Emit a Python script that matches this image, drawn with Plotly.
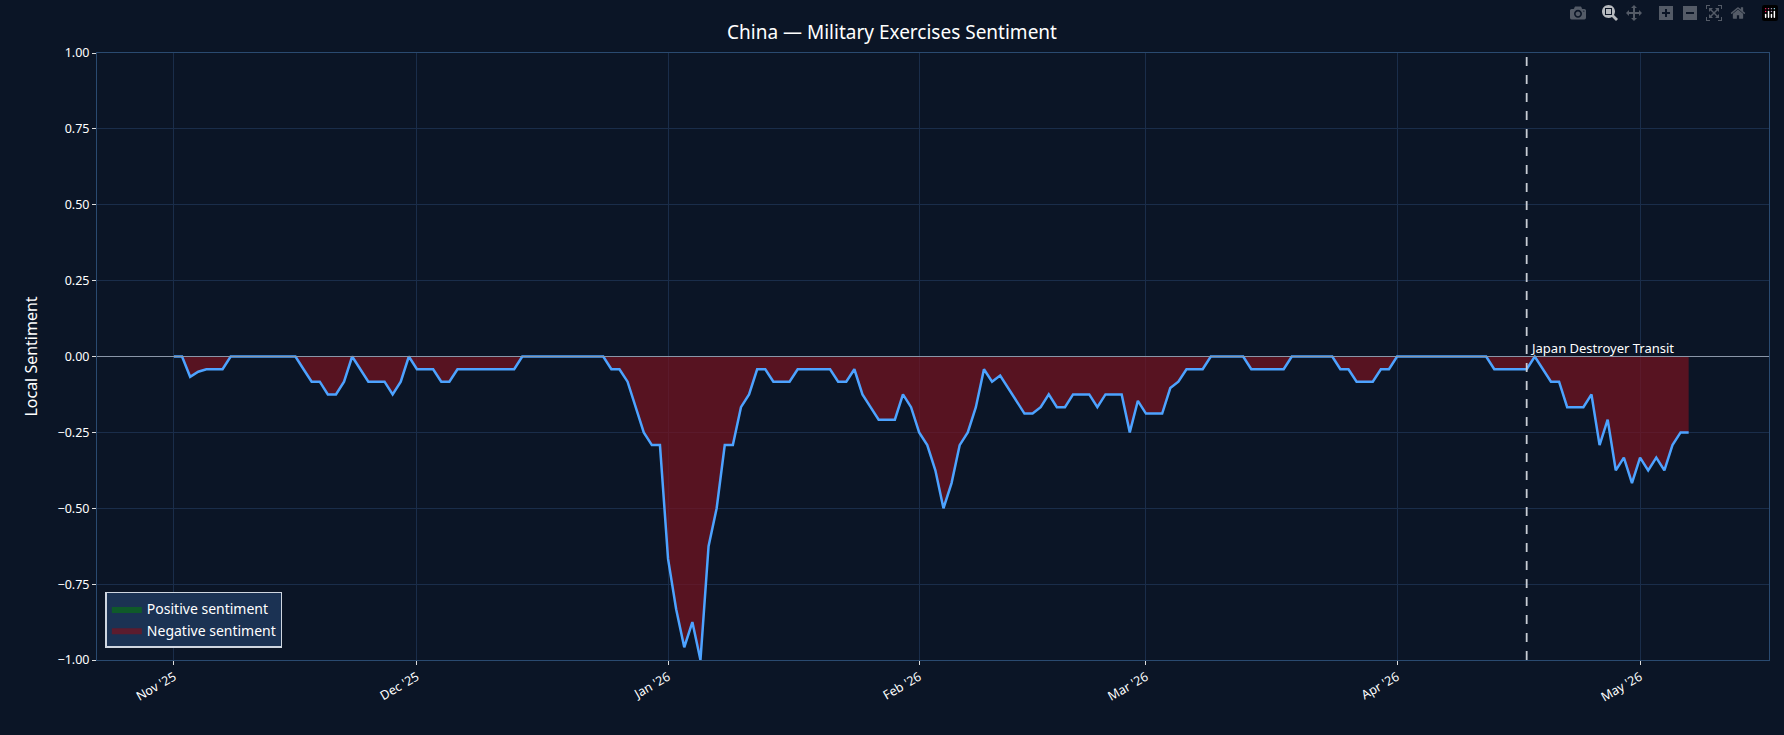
import plotly.graph_objects as go
import pandas as pd

start_date = "2025-11-01"
# daily local sentiment values, Nov 1 2025 .. May 7 2026
values = [
 0, 0, -0.067, -0.05, -0.042, -0.042, -0.042, 0, 0, 0,
 0, 0, 0, 0, 0, 0, -0.042, -0.083, -0.083, -0.125,
 -0.125, -0.083, 0, -0.042, -0.083, -0.083, -0.083, -0.125, -0.083, 0,
 -0.042, -0.042, -0.042, -0.083, -0.083, -0.042, -0.042, -0.042, -0.042, -0.042,
 -0.042, -0.042, -0.042, 0, 0, 0, 0, 0, 0, 0,
 0, 0, 0, 0, -0.042, -0.042, -0.083, -0.167, -0.25, -0.292,
 -0.292, -0.667, -0.833, -0.958, -0.875, -1.0, -0.625, -0.5, -0.292, -0.292,
 -0.167, -0.125, -0.042, -0.042, -0.083, -0.083, -0.083, -0.042, -0.042, -0.042,
 -0.042, -0.042, -0.083, -0.083, -0.042, -0.125, -0.167, -0.208, -0.208, -0.208,
 -0.125, -0.167, -0.25, -0.292, -0.375, -0.5, -0.417, -0.292, -0.25, -0.167,
 -0.042, -0.083, -0.0625, -0.104, -0.146, -0.188, -0.188, -0.167, -0.125, -0.167,
 -0.167, -0.125, -0.125, -0.125, -0.167, -0.125, -0.125, -0.125, -0.25, -0.146,
 -0.188, -0.188, -0.188, -0.104, -0.083, -0.042, -0.042, -0.042, 0, 0,
 0, 0, 0, -0.042, -0.042, -0.042, -0.042, -0.042, 0, 0,
 0, 0, 0, 0, -0.042, -0.042, -0.083, -0.083, -0.083, -0.042,
 -0.042, 0, 0, 0, 0, 0, 0, 0, 0, 0,
 0, 0, 0, -0.042, -0.042, -0.042, -0.042, -0.042, 0, -0.042,
 -0.083, -0.083, -0.167, -0.167, -0.167, -0.125, -0.292, -0.208, -0.375, -0.333,
 -0.417, -0.333, -0.375, -0.333, -0.375, -0.292, -0.25, -0.25,
]
dates = pd.date_range(start_date, periods=len(values), freq="D")
event_date = "2026-04-17"
event_label = "Japan Destroyer Transit"
tick_dates = pd.date_range("2025-11-01", "2026-05-01", freq="MS")
tick_labels = [d.strftime("%b '%y") for d in tick_dates]

neg = [min(v, 0) for v in values]
pos = [max(v, 0) for v in values]
zeros = [0] * len(values)

BG = "#0b1526"
GRID = "#1a2d4a"
FONT = "Noto Sans"

fig = go.Figure()
fig.add_trace(go.Scatter(x=dates, y=zeros, mode="lines", line=dict(width=0), showlegend=False, hoverinfo="skip"))
fig.add_trace(go.Scatter(x=dates, y=pos, mode="lines", line=dict(width=0), fill="tonexty",
                         fillcolor="#0f5a2a", name="Positive sentiment"))
fig.add_trace(go.Scatter(x=dates, y=zeros, mode="lines", line=dict(width=0), showlegend=False, hoverinfo="skip"))
fig.add_trace(go.Scatter(x=dates, y=neg, mode="lines", line=dict(width=0), fill="tonexty",
                         fillcolor="rgba(120,18,32,0.7)", name="Negative sentiment"))
fig.add_trace(go.Scatter(x=dates, y=values, mode="lines", line=dict(color="#4da3ff", width=2.5),
                         showlegend=False))

fig.add_hline(y=0, line=dict(color="#8a96a8", width=1))
fig.add_vline(x=pd.Timestamp(event_date).timestamp() * 1000, line=dict(color="#c8ccd4", width=1.8, dash="dash"))
fig.add_annotation(x=pd.Timestamp(event_date), y=0, text=event_label, showarrow=False,
                   xanchor="left", yanchor="bottom", xshift=1, yshift=-2,
                   font=dict(color="white", size=13, family=FONT))

fig.update_layout(
    width=1784, height=735,
    paper_bgcolor=BG, plot_bgcolor=BG,
    margin=dict(l=97, r=15, t=53, b=75),
    title=dict(text="China — Military Exercises Sentiment", x=0.5, xanchor="center", y=0.965,
               font=dict(color="white", size=19, family=FONT)),
    font=dict(family=FONT, color="white", size=12),
    xaxis=dict(range=["2025-10-22 12:00", "2026-05-16 22:00"], tickvals=tick_dates, ticktext=tick_labels,
               tickangle=-30, showgrid=True, gridcolor=GRID, zeroline=False,
               showline=True, linecolor="#2a4a70", mirror=True, ticks="outside", tickcolor="#dddddd",
               ticklen=4, tickfont=dict(size=12.5)),
    yaxis=dict(range=[-1, 1], tickvals=[-1, -0.75, -0.5, -0.25, 0, 0.25, 0.5, 0.75, 1],
               tickformat=".2f", showgrid=True, gridcolor=GRID, zeroline=False,
               showline=True, linecolor="#2a4a70", mirror=True, ticks="outside", tickcolor="#dddddd",
               ticklen=4, title=dict(text="Local Sentiment", font=dict(size=16)), tickfont=dict(size=12.5)),
    legend=dict(x=0.005, y=0.02, xanchor="left", yanchor="bottom", bgcolor="#1b3253",
                bordercolor="#cfd6e0", borderwidth=1.5, font=dict(size=14), traceorder="normal"),
    showlegend=True,
)

fig.write_html("out.html",
               post_script="document.body.style.margin='0';document.body.style.background='#0b1526';")
